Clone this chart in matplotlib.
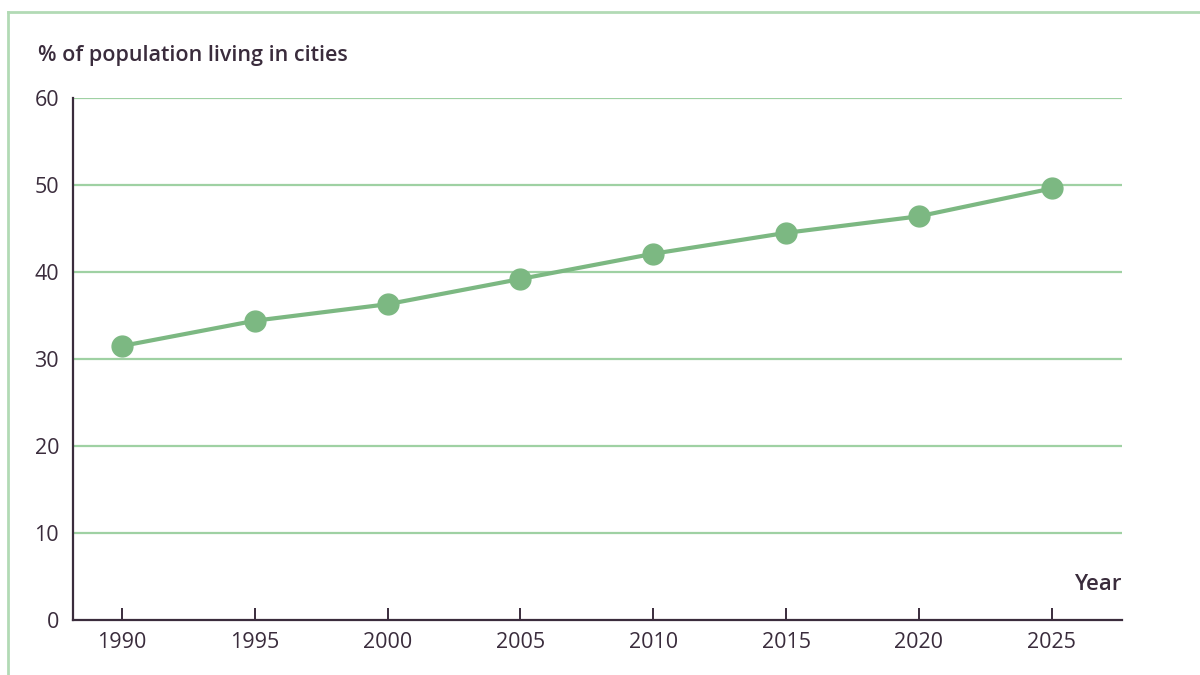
import matplotlib
matplotlib.use('Agg')
import matplotlib.pyplot as plt
from matplotlib.lines import Line2D

# data
years = [1990, 1995, 2000, 2005, 2010, 2015, 2020, 2025]
urban_pct = [31.5, 34.4, 36.3, 39.2, 42.1, 44.5, 46.4, 49.6]
y_ticks = [0, 10, 20, 30, 40, 50, 60]

green = '#7cb882'
grid_green = '#9fd1a3'
frame_green = '#b2dab5'
dark = '#3a2c3c'

plt.rcParams['font.family'] = ['Open Sans', 'DejaVu Sans']

fig = plt.figure(figsize=(12, 6.75), dpi=100)
ax = fig.add_axes([73/1200, 1-620/675, (1122-73)/1200, (620-98)/675])

# grid lines (drawn as horizontal lines across the plot)
for v in y_ticks[1:]:
    ax.axhline(v, color=grid_green, lw=1.6, zorder=1)

ax.plot(years, urban_pct, color=green, lw=3, marker='o', ms=15,
        markeredgecolor=green, zorder=3, clip_on=False)

ax.set_xlim(1988.15, 2027.65)
ax.set_ylim(0, 60)
ax.set_xticks(years)
ax.set_yticks(y_ticks)

for s in ['top', 'right']:
    ax.spines[s].set_visible(False)
for s in ['left', 'bottom']:
    ax.spines[s].set_color(dark)
    ax.spines[s].set_linewidth(1.6)

ax.tick_params(axis='x', direction='in', length=9, width=1.4, color=dark,
               labelsize=15.5, labelcolor=dark, pad=9)
ax.tick_params(axis='y', length=0, labelsize=15.5, labelcolor=dark, pad=10)

fig.text(38/1200, 1-55/675, '% of population living in cities', fontsize=15.5,
         fontweight='semibold', color=dark, va='center', ha='left')
fig.text(1122/1200, 1-585/675, 'Year', fontsize=16, fontweight='semibold',
         color=dark, va='center', ha='right')

# light green frame at top and left
fig.add_artist(Line2D([8/1200, 1], [1-12/675, 1-12/675], color=frame_green, lw=2))
fig.add_artist(Line2D([8/1200, 8/1200], [0, 1-12/675], color=frame_green, lw=2))

fig.savefig('out.png', dpi=100, facecolor='white')
